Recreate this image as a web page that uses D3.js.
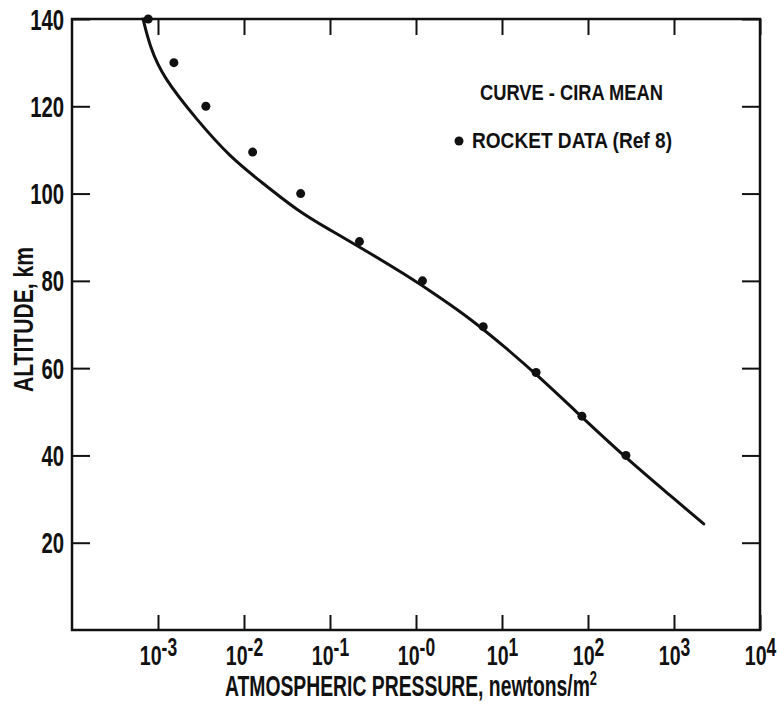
<!DOCTYPE html>
<html><head><meta charset="utf-8">
<script src="https://cdn.jsdelivr.net/npm/d3@7"></script>
<style>
body{margin:0;background:#fff}
svg text{font-family:"Liberation Sans",Arial,sans-serif;font-weight:bold;fill:#111}
</style></head><body>
<svg id="chart" width="777" height="707"></svg>
<script>
// CIRA mean curve (pressure N/m^2, altitude km)
const curvePressure = [6.7e-4, 8.07e-4, 1.14e-3, 2.83e-3, 6.84e-3, 1.65e-2, 4.10e-2, 9.89e-2, 0.220, 0.773, 1.87, 4.51, 11.2, 27.0, 65.3, 276, 944, 2218];
const curveAltitude = [140, 133.6, 126.7, 116.9, 108.4, 102.4, 96.2, 91.7, 87.8, 81.3, 76.3, 71.0, 64.6, 58.0, 50.9, 39.4, 30.5, 24.3];
// Rocket data (Ref 8)
const rocketPressure = [7.7e-4, 1.53e-3, 3.6e-3, 1.26e-2, 4.56e-2, 0.22, 1.19, 6.05, 24.9, 85, 276];
const rocketAltitude = [140, 130, 120, 109.5, 100, 89, 80, 69.5, 59, 49, 40];
// Ticks
const altitudeTicks = [20, 40, 60, 80, 100, 120, 140];
const pressureTicks = [1e-3, 1e-2, 1e-1, 1e0, 1e1, 1e2, 1e3, 1e4];
const pressureTickExponents = ["-3", "-2", "-1", "-0", "1", "2", "3", "4"];
const legendCurveText = "CURVE - CIRA MEAN";
const legendRocketText = "ROCKET DATA (Ref 8)";
const xTitle = "ATMOSPHERIC PRESSURE, newtons/m";
const xTitleSup = "2";
const yTitle = "ALTITUDE, km";

const svg = d3.select("#chart");
const x = d3.scaleLog().domain([1e-4, 1e4]).range([72, 760]);
const y = d3.scaleLinear().domain([0, 140]).range([630, 19]);
const ink = "#111";
const squeeze = 0.7;

// frame
svg.append("rect")
  .attr("x", x.range()[0]).attr("y", y.range()[1])
  .attr("width", x.range()[1] - x.range()[0])
  .attr("height", y.range()[0] - y.range()[1])
  .attr("fill", "none").attr("stroke", ink).attr("stroke-width", 2.5);

function styleAxis(g) {
  g.select(".domain").remove();
  g.selectAll(".tick line").attr("stroke", ink).attr("stroke-width", 2);
  g.selectAll(".tick text").remove();
}

// bottom axis
const gB = svg.append("g").attr("transform", `translate(0,${y.range()[0]})`)
  .call(d3.axisBottom(x).tickValues(pressureTicks).tickSize(-15).tickSizeOuter(0))
  .call(styleAxis);
gB.selectAll(".tick").each(function(d, i) {
  const t = d3.select(this).append("text")
    .attr("transform", `translate(0,35) scale(${squeeze},1)`)
    .attr("text-anchor", "middle")
    .attr("font-size", 28).attr("fill", ink);
  t.append("tspan").text("10");
  t.append("tspan").attr("dy", -9).attr("font-size", 25).text(pressureTickExponents[i]);
});

// top axis
svg.append("g").attr("transform", `translate(0,${y.range()[1]})`)
  .call(d3.axisTop(x).tickValues(pressureTicks).tickSize(-16).tickSizeOuter(0))
  .call(styleAxis);

// left axis
const gL = svg.append("g").attr("transform", `translate(${x.range()[0]},0)`)
  .call(d3.axisLeft(y).tickValues(altitudeTicks).tickSize(-18).tickSizeOuter(0))
  .call(styleAxis);
gL.selectAll(".tick").append("text")
  .attr("transform", `translate(-8,10) scale(${squeeze},1)`)
  .attr("text-anchor", "end").attr("font-size", 29).attr("fill", ink)
  .text(d => d);

// right axis
svg.append("g").attr("transform", `translate(${x.range()[1]},0)`)
  .call(d3.axisRight(y).tickValues(altitudeTicks).tickSize(-18).tickSizeOuter(0))
  .call(styleAxis);

// curve
const curveData = curvePressure.map((p, i) => ({p, a: curveAltitude[i]}));
svg.append("path")
  .datum(curveData)
  .attr("fill", "none").attr("stroke", ink).attr("stroke-width", 3)
  .attr("stroke-linecap", "round")
  .attr("d", d3.line().x(d => x(d.p)).y(d => y(d.a)).curve(d3.curveBasis));

// rocket points
svg.append("g").selectAll("circle")
  .data(rocketPressure.map((p, i) => ({p, a: rocketAltitude[i]})))
  .join("circle")
  .attr("cx", d => x(d.p)).attr("cy", d => y(d.a)).attr("r", 4.5).attr("fill", ink);

// legend
svg.append("text").attr("x", 480).attr("y", 100).attr("font-size", 22)
  .attr("textLength", 183).attr("lengthAdjust", "spacingAndGlyphs").text(legendCurveText);
svg.append("circle").attr("cx", 459).attr("cy", 141).attr("r", 4.5).attr("fill", ink);
svg.append("text").attr("x", 472).attr("y", 148).attr("font-size", 22)
  .attr("textLength", 200).attr("lengthAdjust", "spacingAndGlyphs").text(legendRocketText);

// axis titles
const xt = svg.append("text").attr("x", 225).attr("y", 696).attr("font-size", 30)
  .attr("textLength", 372).attr("lengthAdjust", "spacingAndGlyphs");
xt.append("tspan").text(xTitle);
xt.append("tspan").attr("dy", -11).attr("font-size", 20).text(xTitleSup);

svg.append("text")
  .attr("transform", "translate(33,392) rotate(-90)")
  .attr("font-size", 28)
  .attr("textLength", 145).attr("lengthAdjust", "spacingAndGlyphs")
  .text(yTitle);
</script>
</body></html>
